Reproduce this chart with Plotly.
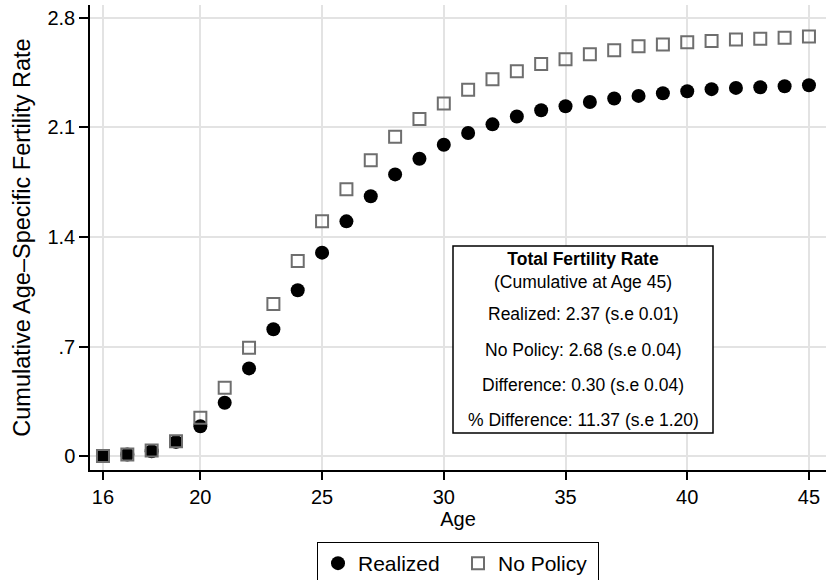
import plotly.graph_objects as go

ages = list(range(16, 46))
realized = [0.0, 0.01, 0.03, 0.09, 0.19, 0.34, 0.56, 0.81, 1.06, 1.30,
            1.50, 1.66, 1.80, 1.90, 1.99, 2.065, 2.12, 2.17, 2.21, 2.236,
            2.263, 2.285, 2.302, 2.319, 2.332, 2.345, 2.353, 2.357, 2.364, 2.37]
no_policy = [0.0, 0.01, 0.035, 0.095, 0.245, 0.437, 0.692, 0.972, 1.247, 1.50,
             1.705, 1.89, 2.04, 2.155, 2.253, 2.342, 2.408, 2.46, 2.506, 2.536,
             2.568, 2.594, 2.619, 2.63, 2.645, 2.653, 2.662, 2.668, 2.673, 2.681]

x_ticks = [16, 20, 25, 30, 35, 40, 45]
y_ticks = [0, 0.7, 1.4, 2.1, 2.8]
y_tick_labels = ["0", ".7", "1.4", "2.1", "2.8"]

box_title = "Total Fertility Rate"
box_sub = "(Cumulative at Age 45)"
box_lines = ["Realized: 2.37 (s.e 0.01)",
             "No Policy: 2.68 (s.e 0.04)",
             "Difference: 0.30 (s.e 0.04)",
             "% Difference: 11.37 (s.e 1.20)"]

FONT = "Liberation Sans, Arial, Helvetica, sans-serif"

fig = go.Figure()
fig.add_trace(go.Scatter(
    x=ages, y=realized, mode="markers", name="Realized",
    marker=dict(symbol="circle", size=14, color="black", line=dict(width=0)),
))
fig.add_trace(go.Scatter(
    x=ages, y=no_policy, mode="markers", name="No Policy",
    marker=dict(symbol="square-open", size=12, color="#6e6e6e", line=dict(width=2, color="#6e6e6e")),
))

# plot area pixel geometry
L, R, T, B = 90, 826, 5, 470
W, H = 828, 580

def py(ypix):
    return (B - ypix) / (B - T)

def px(xpix):
    return (xpix - L) / (R - L)

fig.add_shape(type="rect", xref="paper", yref="paper",
              x0=px(453), x1=px(713), y0=py(433), y1=py(246),
              line=dict(color="black", width=1.5), fillcolor="white", layer="above")

cx = px(583)
fig.add_annotation(x=cx, y=py(270.5), xref="paper", yref="paper", showarrow=False,
                   text="<b>" + box_title + "</b><br>" + box_sub,
                   font=dict(size=17.5, family=FONT, color="black"),
                   yanchor="middle", xanchor="center", align="center")
for yy, t in zip([314, 349.5, 384.5, 419.5], box_lines):
    fig.add_annotation(x=cx, y=py(yy), xref="paper", yref="paper", showarrow=False,
                       text=t, font=dict(size=17.5, family=FONT, color="black"),
                       yanchor="middle", xanchor="center")

fig.update_layout(
    width=W, height=H,
    margin=dict(l=L, r=W - R, t=T, b=H - B, autoexpand=False),
    plot_bgcolor="white", paper_bgcolor="white",
    font=dict(family=FONT, color="black", size=20),
    showlegend=True,
    legend=dict(orientation="h", x=0.5, xanchor="center", y=py(542), yanchor="top",
                bordercolor="black", borderwidth=1, bgcolor="white",
                font=dict(size=21, family=FONT, color="black"),
                itemsizing="trace", tracegroupgap=0, entrywidth=95, entrywidthmode="pixels"),
)
fig.update_xaxes(
    range=[15.467, 45.7], tickvals=x_ticks, ticktext=[str(v) for v in x_ticks],
    showline=True, linecolor="black", linewidth=1.5, mirror=False,
    ticks="outside", ticklen=8, tickwidth=1.5, tickcolor="black",
    showgrid=True, gridcolor="#e3e3e3", gridwidth=1.5, zeroline=False,
    tickfont=dict(size=20), title=dict(text="Age", font=dict(size=20), standoff=0),
)
fig.update_yaxes(
    range=[-0.0895, 2.883], tickvals=y_ticks, ticktext=y_tick_labels,
    showline=True, linecolor="black", linewidth=1.5, mirror=False,
    ticks="outside", ticklen=9, tickwidth=1.5, tickcolor="black",
    showgrid=True, gridcolor="#e3e3e3", gridwidth=1.5, zeroline=False,
    tickfont=dict(size=20),
    title=dict(text="Cumulative Age\u2013Specific Fertility Rate", font=dict(size=23.5), standoff=10),
)

fig.write_html("out.html")
